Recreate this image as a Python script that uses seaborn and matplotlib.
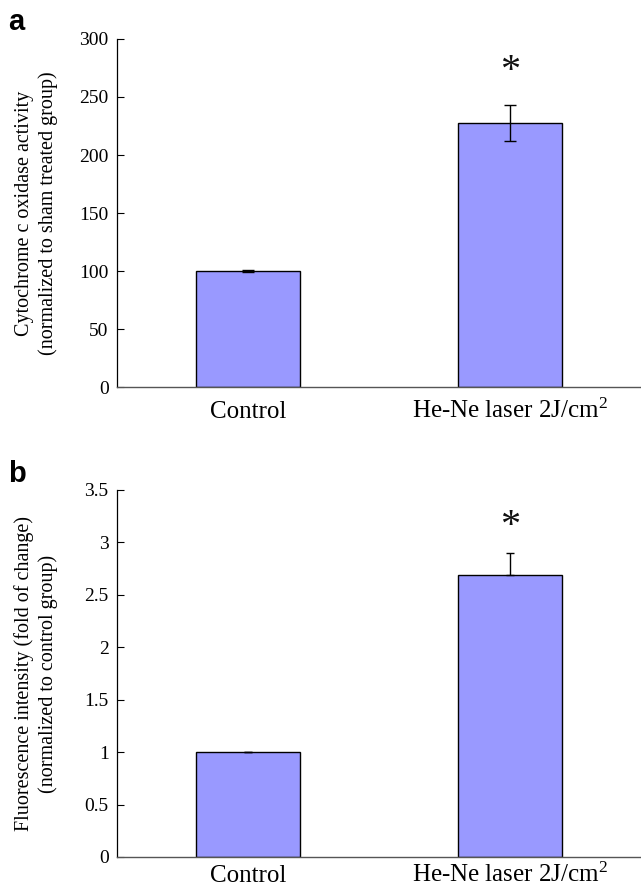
import matplotlib
matplotlib.use("Agg")
import matplotlib.pyplot as plt
import seaborn as sns
import numpy as np
import pandas as pd

# data
groups = ["Control", "He-Ne laser 2J/cm$^{2}$"]
cox_activity = [100, 228]
cox_err = [0.5, 15.5]
fluor_intensity = [1.0, 2.69]
fluor_err = [0.005, 0.21]
significant = [False, True]

BAR_COLOR = "#9999ff"


def set_style():
    sns.set_theme(style="white")
    plt.rcParams['font.family'] = ['Liberation Serif', 'DejaVu Serif']
    plt.rcParams['mathtext.fontset'] = 'custom'
    plt.rcParams['mathtext.rm'] = 'Liberation Serif'
    plt.rcParams['mathtext.it'] = 'Liberation Serif:italic'
    plt.rcParams['text.color'] = 'black'
    plt.rcParams['axes.labelcolor'] = 'black'
    plt.rcParams['xtick.labelcolor'] = 'black'
    plt.rcParams['ytick.labelcolor'] = 'black'


def draw_panel(ax, values, errors, ylim, yticks, ylabel, capsize, upper_only,
               star_offset, xlabel_pad):
    df = pd.DataFrame({"group": groups, "value": values})
    sns.barplot(data=df, x="group", y="value", color=BAR_COLOR, saturation=1,
                width=0.4, edgecolor="black", linewidth=1.0, errorbar=None, ax=ax)
    x = np.arange(len(values))
    if upper_only:
        yerr = [np.zeros(len(errors)), errors]
    else:
        yerr = errors
    ax.errorbar(x, values, yerr=yerr, fmt="none", ecolor="black",
                elinewidth=1.0, capsize=capsize, capthick=1.0, zorder=5)
    for xi, v, e, s in zip(x, values, errors, significant):
        if s:
            ax.annotate("*", xy=(xi, v + e), xytext=(0, star_offset),
                        textcoords="offset points", ha="center", va="baseline",
                        fontsize=29, color="#111111")
    ax.set_xlim(-0.5, 1.5)
    ax.set_ylim(*ylim)
    ax.set_yticks(yticks)
    ax.set_yticklabels([f"{t:g}" for t in yticks], fontsize=14)
    ax.set_xticks([0.5], minor=True)
    ax.tick_params(axis="x", which="major", length=0, pad=xlabel_pad, labelsize=18)
    for lab in ax.get_xticklabels():
        lab.set_verticalalignment("baseline")
    ax.tick_params(axis="x", which="minor", direction="in", length=5,
                   width=0.8, color="#444444")
    ax.tick_params(axis="y", direction="in", length=5, width=0.8, pad=6,
                   left=True, color="black")
    ax.set_xlabel("")
    ax.set_ylabel(ylabel, fontsize=14.5, linespacing=1.25)
    ax.yaxis.set_label_coords(-0.113, 0.5)
    for side in ["top", "right"]:
        ax.spines[side].set_visible(False)
    ax.spines["left"].set_color("black")
    ax.spines["left"].set_linewidth(0.9)
    ax.spines["bottom"].set_color("#555555")
    ax.spines["bottom"].set_linewidth(1.0)


set_style()
fig = plt.figure(figsize=(6.41, 8.94), dpi=100)
ax_a = fig.add_axes([0.1825, 0.567, 0.8175, 0.3894])
ax_b = fig.add_axes([0.1825, 0.0414, 0.8175, 0.4106])

draw_panel(ax_a, cox_activity, cox_err, (0, 300), [0, 50, 100, 150, 200, 250, 300],
           "Cytochrome c oxidase activity\n(normalized to sham treated group)",
           capsize=4.6, upper_only=False, star_offset=17, xlabel_pad=22)
draw_panel(ax_b, fluor_intensity, fluor_err, (0, 3.5),
           [0, 0.5, 1, 1.5, 2, 2.5, 3, 3.5],
           "Fluorescence intensity (fold of change)\n(normalized to control group)",
           capsize=3.0, upper_only=True, star_offset=12, xlabel_pad=18)

fig.text(0.012, 0.9664, "a", fontsize=21, fontweight="bold", family="Liberation Sans",
         ha="left", va="baseline")
fig.text(0.012, 0.461, "b", fontsize=21, fontweight="bold", family="Liberation Sans",
         ha="left", va="baseline")

fig.savefig("out.png", dpi=100)
